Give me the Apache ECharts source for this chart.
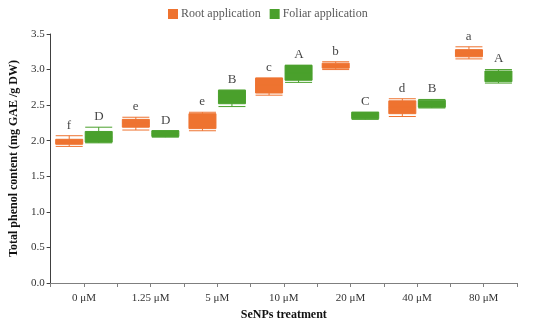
<!DOCTYPE html>
<html>
<head>
<meta charset="utf-8">
<script src="https://cdn.jsdelivr.net/npm/echarts@6/dist/echarts.min.js"></script>
<style>html,body{margin:0;padding:0;background:#fff;}#c{width:550px;height:328px;}</style>
</head>
<body>
<div id="c"></div>
<script>
const categories = ['0 μM', '1.25 μM', '5 μM', '10 μM', '20 μM', '40 μM', '80 μM'];
// [min, Q1, median, Q3, max]
const rootValues = [
  [1.92, 1.95, 1.98, 2.02, 2.07],
  [2.15, 2.19, 2.25, 2.30, 2.33],
  [2.14, 2.17, 2.26, 2.38, 2.40],
  [2.64, 2.67, 2.78, 2.88, 2.88],
  [3.00, 3.02, 3.05, 3.09, 3.11],
  [2.34, 2.38, 2.47, 2.56, 2.59],
  [3.15, 3.18, 3.23, 3.28, 3.32]
];
const foliarValues = [
  [1.97, 1.98, 2.05, 2.13, 2.19],
  [2.05, 2.06, 2.10, 2.14, 2.14],
  [2.48, 2.52, 2.62, 2.71, 2.71],
  [2.82, 2.85, 2.95, 3.06, 3.06],
  [2.30, 2.31, 2.36, 2.40, 2.40],
  [2.46, 2.47, 2.52, 2.57, 2.58],
  [2.81, 2.83, 2.90, 2.98, 3.00]
];
const rootLetters = ['f', 'e', 'e', 'c', 'b', 'd', 'a'];
const foliarLetters = ['D', 'D', 'B', 'A', 'C', 'B', 'A'];
const yTicks = [0, 0.5, 1.0, 1.5, 2.0, 2.5, 3.0, 3.5];

const ORANGE = '#EE7330';
const GREEN = '#4AA02C';
const FONT = 'Liberation Serif';

function letterSeries(values, letters, offsetX) {
  return {
    type: 'scatter',
    xAxisIndex: 0,
    symbolSize: 0,
    silent: true,
    data: values.map((v, i) => [i, v[4]]),
    label: {
      show: true,
      position: 'top',
      distance: 4,
      offset: [offsetX, 0],
      fontFamily: FONT,
      fontSize: 13,
      color: '#111',
      formatter: p => letters[p.dataIndex]
    }
  };
}

const chart = echarts.init(document.getElementById('c'));
chart.setOption({
  animation: false,
  textStyle: { fontFamily: FONT },
  legend: {
    data: ['Root application', 'Foliar application'],
    left: 163,
    top: 3,
    itemWidth: 8,
    itemHeight: 8,
    itemGap: 9,
    icon: 'rect',
    textStyle: { fontFamily: FONT, fontSize: 12, color: '#595959', padding: [0, 0, 0, -1] }
  },
  grid: { left: 45, right: 33, top: 34, bottom: 45 },
  xAxis: [
    {
      type: 'category',
      data: categories,
      boundaryGap: true,
      name: 'SeNPs treatment',
      nameLocation: 'middle',
      nameGap: 25,
      nameTextStyle: { fontFamily: FONT, fontSize: 12, fontWeight: 'bold', color: '#111' },
      axisLine: { lineStyle: { color: '#7f7f7f', width: 1 } },
      axisTick: { show: true, length: 4, lineStyle: { color: '#7f7f7f' } },
      axisLabel: { fontFamily: FONT, fontSize: 11, color: '#333', margin: 10 },
      splitLine: { show: false }
    },
    {
      type: 'category',
      data: categories,
      position: 'bottom',
      boundaryGap: true,
      axisLine: { show: false },
      axisTick: { show: true, alignWithLabel: true, length: 4, lineStyle: { color: '#7f7f7f' } },
      axisLabel: { show: false },
      splitLine: { show: false }
    }
  ],
  yAxis: {
    type: 'value',
    min: 0,
    max: 3.5,
    interval: 0.5,
    name: 'Total phenol content (mg GAE /g DW)',
    nameLocation: 'middle',
    nameGap: 30,
    nameTextStyle: { fontFamily: FONT, fontSize: 12, fontWeight: 'bold', color: '#111' },
    axisLine: { show: true, lineStyle: { color: '#404040', width: 1 } },
    axisTick: { show: true, length: 4, lineStyle: { color: '#404040' } },
    axisLabel: { fontFamily: FONT, fontSize: 11, color: '#333', margin: 6, formatter: v => (yTicks.includes(v) ? v.toFixed(1) : '') },
    splitLine: { show: false }
  },
  series: [
    {
      name: 'Root application',
      type: 'boxplot',
      xAxisIndex: 0,
      boxWidth: [27, 27],
      itemStyle: { color: ORANGE, borderColor: ORANGE, borderWidth: 1 },
      data: rootValues
    },
    {
      name: 'Foliar application',
      type: 'boxplot',
      xAxisIndex: 0,
      boxWidth: [27, 27],
      itemStyle: { color: GREEN, borderColor: GREEN, borderWidth: 1 },
      data: foliarValues
    },
    letterSeries(rootValues, rootLetters, -15),
    letterSeries(foliarValues, foliarLetters, 15)
  ]
});
</script>
</body>
</html>
